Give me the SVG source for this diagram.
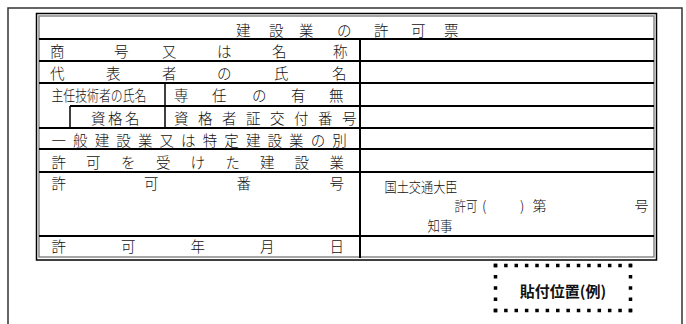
<svg xmlns="http://www.w3.org/2000/svg" width="686" height="324" viewBox="0 0 686 324">
<style>
.t{font-family:"Noto Sans CJK JP","Noto Sans CJK SC",sans-serif;font-size:14.5px;fill:#111;font-weight:300}
.s{font-family:"Noto Sans CJK JP","Noto Sans CJK SC",sans-serif;font-size:14px;fill:#111;font-weight:300}
.ln{stroke:#000;stroke-width:2;fill:none}
.thin{stroke:#000;stroke-width:1.5;fill:none}
.dot{stroke:#000;stroke-width:3.5;fill:none}
</style>
<rect width="686" height="324" fill="#fff"/>
<g id="frame">
<path d="M8,324 V8 H682 V324" fill="none" stroke="#333" stroke-width="1.5"/>
</g>
<g id="table-border">
<rect x="36.5" y="13.5" width="620" height="246.5" fill="none" stroke="#000" stroke-width="1.5"/>
<rect x="39" y="16" width="615" height="241" fill="none" stroke="#888" stroke-width="1.5"/>
</g>
<g id="grid">
<path class="ln" d="M39,39 H654 M39,61 H654 M39,83 H654 M70,106 H654 M39,128 H654 M39,149 H654 M39,172 H654 M39,236 H654"/>
<path class="ln" d="M360,39 V258"/>
<path class="thin" d="M165,83 V128 M70,106 V128"/>
</g>
<g id="title">
<text class="t" y="36" x="236 269 299 337 374 411 444">建設業の許可票</text>
</g>
<g id="row-name">
<text class="t" y="57" x="50 114 162 217 272 333">商号又は名称</text>
</g>
<g id="row-rep">
<text class="t" y="79" x="50 106 162 217 274 332">代表者の氏名</text>
</g>
<g id="row-chief">
<text class="t" x="51.5" y="101" textLength="95" lengthAdjust="spacingAndGlyphs">主任技術者の氏名</text>
<text class="t" y="101" x="174 212 252 291 329">専任の有無</text>
</g>
<g id="row-qual">
<text class="t" y="123.5" x="91 108 125">資格名</text>
<text class="t" y="123.5" x="174 198 222 246 270 294 318 342">資格者証交付番号</text>
</g>
<g id="row-kind">
<text class="t" y="146" x="51.5 73.1 94.7 116.3 137.9 159.5 181.1 202.7 224.3 245.9 267.5 289.1 310.7 332.3">一般建設業又は特定建設業の別</text>
</g>
<g id="row-trade">
<text class="t" y="167.5" x="51.5 86 121 156 190.5 225.5 260 294.5 329.5">許可を受けた建設業</text>
</g>
<g id="row-number">
<text class="t" y="189" x="51.5 144 236.5 329.5">許可番号</text>
<text class="s" x="384.5" y="192" textLength="73" lengthAdjust="spacingAndGlyphs">国土交通大臣</text>
<text class="s" x="454.5" y="211" textLength="23" lengthAdjust="spacingAndGlyphs">許可</text>
<text class="s" y="211" x="482 520 532.5 634.5">()第号</text>
<text class="s" x="427.5" y="231" textLength="25" lengthAdjust="spacingAndGlyphs">知事</text>
</g>
<g id="row-date">
<text class="t" y="252" x="51.5 121 190.5 260 329.5">許可年月日</text>
</g>
<g id="paste-position">
<path class="dot" stroke-dasharray="3.5 6.88" d="M493.75,265.5 H632.25 M493.75,310.5 H632.25"/>
<path class="dot" stroke-dasharray="3.5 7.75" d="M495.5,263.75 V312.25 M630.5,263.75 V312.25"/>
<text x="563" y="297" text-anchor="middle" font-family="Noto Sans CJK JP, sans-serif" font-size="15" font-weight="700" fill="#111">貼付位置(例)</text>
</g>
</svg>
